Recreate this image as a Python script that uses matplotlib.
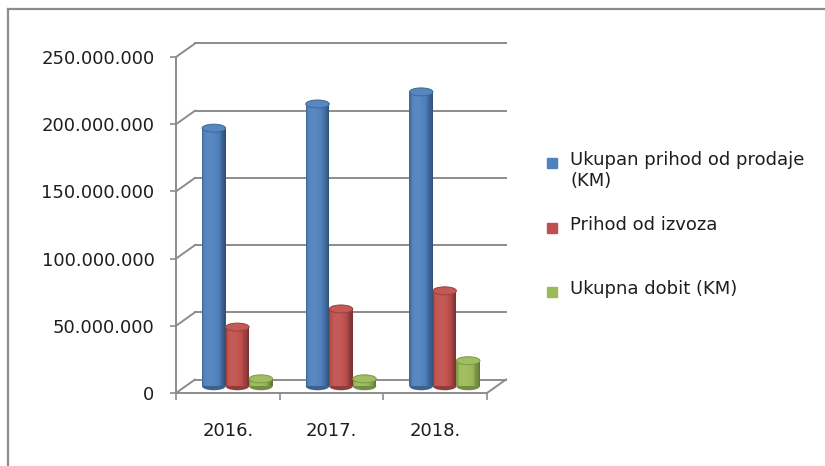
"""Pseudo-3D cylinder column chart: revenue, export revenue and profit by year."""

import numpy as np
import matplotlib.pyplot as plt
from matplotlib.patches import Ellipse, Rectangle
from matplotlib.ticker import FuncFormatter

# data
years = ["2016.", "2017.", "2018."]
series_names = ["Ukupan prihod od prodaje\n(KM)", "Prihod od izvoza", "Ukupna dobit (KM)"]
prihod_prodaja = [192e6, 210e6, 219e6]
prihod_izvoz = [44e6, 57.5e6, 71e6]
dobit = [5.5e6, 5.5e6, 19e6]
y_ticks = [0, 50e6, 100e6, 150e6, 200e6, 250e6]

colors = ["#4F81BD", "#C0504D", "#9BBB59"]
grid_col = "#8C8C8C"
text_col = "#1E1E1E"

W, H, DPI = 825, 466, 100
fig = plt.figure(figsize=(W / DPI, H / DPI), dpi=DPI)
plt.rcParams["font.family"] = "DejaVu Sans"


def fx(px):
    return px / W


def fy(py):
    return 1 - py / H


# front plane of the plot box (pixel positions)
left, right, top, bottom = 176, 487, 57, 393
ax = fig.add_axes([fx(left), fy(bottom), fx(right - left), (bottom - top) / H])
ax.set_xlim(-0.5, 2.5)
ax.set_ylim(0, 250e6)
ax.patch.set_alpha(0)

# depth offset (pixels) converted to data units
px_x = (right - left) / 3.0
px_y = (bottom - top) / 250e6
ddx = 19 / px_x
ddy = 13.5 / px_y

# back wall grid lines and left wall diagonals
for v in y_ticks:
    ax.plot([-0.5 + ddx, 2.5 + ddx], [v + ddy, v + ddy], color=grid_col, lw=1.4,
            clip_on=False, zorder=1)
    ax.plot([-0.5, -0.5 + ddx], [v, v + ddy], color=grid_col, lw=1.4,
            clip_on=False, zorder=1)
# floor right edge
ax.plot([2.5, 2.5 + ddx], [0, ddy], color=grid_col, lw=1.4, clip_on=False, zorder=1)

# cylinders
values = [prihod_prodaja, prihod_izvoz, dobit]
bar_w = 23.5 / px_x
n_strips = 20
ell_h = 8 / px_y
x = np.arange(len(years))


def shade(c, f):
    c = np.array(plt.matplotlib.colors.to_rgb(c))
    if f >= 0:
        return c + (1 - c) * f
    return c * (1 + f)


for i, (vals, col) in enumerate(zip(values, colors)):
    cx = x + (i - 1) * bar_w + ddx / 2
    base = ddy / 2
    edges = np.linspace(0, 1, n_strips + 1)
    t_mid = (edges[:-1] + edges[1:]) / 2
    sw = bar_w / n_strips
    for k, t in enumerate(t_mid):
        # light from the upper left: bright band left of centre, dark rims
        f = 0.12 * np.cos((t - 0.35) * np.pi * 1.2) - 0.06
        if t > 0.7:
            f -= (t - 0.7) * 0.8
        if t < 0.1:
            f -= (0.1 - t) * 2.0
        ax.bar(cx - bar_w / 2 + (k + 0.5) * sw, vals, width=sw * 1.05, bottom=base,
               color=shade(col, f), lw=0, zorder=3)
    for j, v in enumerate(vals):
        ax.add_patch(Ellipse((cx[j], base), bar_w, ell_h, color=shade(col, -0.25),
                             lw=0, zorder=2.9, clip_on=False))
        ax.add_patch(Ellipse((cx[j], v + base), bar_w, ell_h, fc=shade(col, 0.05),
                             ec=shade(col, -0.2), lw=0.7, zorder=4, clip_on=False))

# axes styling
for s in ["top", "right"]:
    ax.spines[s].set_visible(False)
for s in ["left", "bottom"]:
    ax.spines[s].set_color(grid_col)
    ax.spines[s].set_linewidth(1.4)
    ax.spines[s].set_zorder(1)

ax.set_yticks(y_ticks)
ax.yaxis.set_major_formatter(FuncFormatter(lambda v, p: f"{int(v):,}".replace(",", ".")))
ax.tick_params(axis="y", length=4.5, width=1.2, color=grid_col, pad=11,
               labelsize=13, labelcolor=text_col)
ax.set_xticks([-0.5, 0.5, 1.5, 2.5])
ax.set_xticklabels([])
ax.set_xticks(x, minor=True)
ax.set_xticklabels(years, minor=True)
ax.tick_params(axis="x", which="major", length=5, width=1.2, color=grid_col)
ax.tick_params(axis="x", which="minor", length=0, pad=21, labelsize=13,
               labelcolor=text_col)

# legend
leg_y = [163, 228, 292]
for name, col, yy in zip(series_names, colors, leg_y):
    fig.add_artist(Rectangle((fx(547), fy(yy + 5)), fx(10), 10 / H, color=col,
                             transform=fig.transFigure))
    fig.text(fx(570), fy(yy - 12), name, ha="left", va="top", fontsize=13,
             color=text_col, linespacing=1.25)

# outer chart frame
fig.add_artist(plt.Line2D([fx(8), fx(8)], [fy(9), 0], color=grid_col, lw=1.6))
fig.add_artist(plt.Line2D([fx(8), 1], [fy(9), fy(9)], color=grid_col, lw=1.6))

fig.savefig("out.png", dpi=DPI)
